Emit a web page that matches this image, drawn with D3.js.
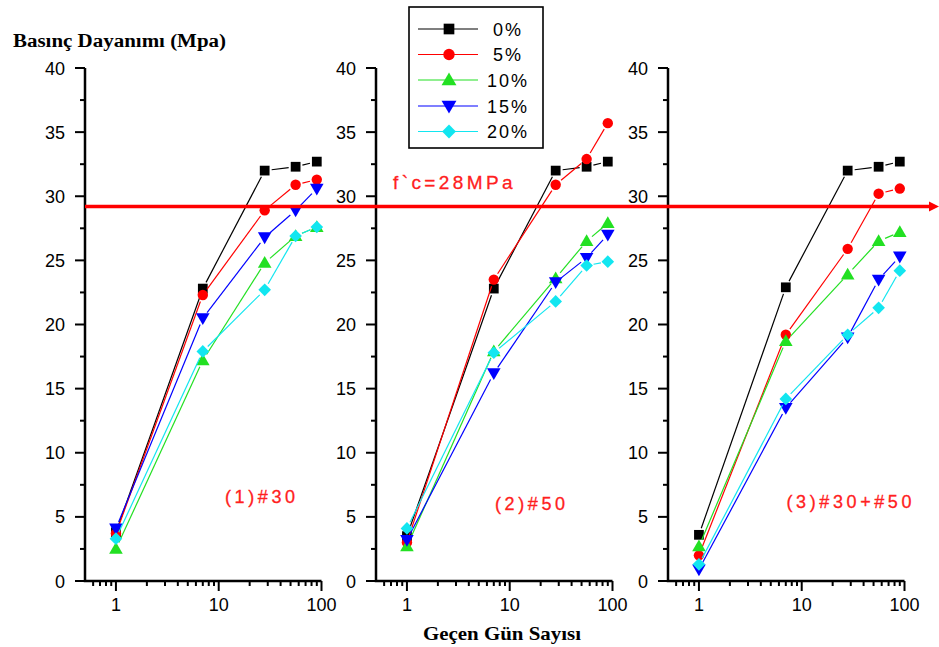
<!DOCTYPE html>
<html><head><meta charset="utf-8">
<script src="https://cdn.jsdelivr.net/npm/d3@7"></script>
<style>body{margin:0;background:#fff}svg{display:block}</style>
</head><body>
<svg id="c" width="939" height="647"></svg>
<script>
// ---- data ----
const days = [1, 7, 28, 56, 90];
const seriesNames = ["0%", "5%", "10%", "15%", "20%"];
const panelLabels = ["(1)#30", "(2)#50", "(3)#30+#50"];
const yTicks = [0, 5, 10, 15, 20, 25, 30, 35, 40];
const xTickLabels = ["1", "10", "100"];
const fcLabel = "f`c=28MPa";
const fcValue = 29.2;
// panel 1: #30
const mesh30 = [
  [3.8, 22.8, 32.0, 32.3, 32.7],
  [3.7, 22.3, 28.9, 30.9, 31.3],
  [2.5, 17.2, 24.8, 26.9, 27.6],
  [4.1, 20.5, 26.8, 28.9, 30.6],
  [3.3, 17.9, 22.7, 26.9, 27.6]
];
// panel 2: #50
const mesh50 = [
  [3.5, 22.8, 32.0, 32.3, 32.7],
  [3.0, 23.5, 30.9, 32.9, 35.7],
  [2.7, 17.9, 23.6, 26.5, 27.9],
  [3.2, 16.2, 23.3, 25.2, 27.0],
  [4.1, 17.8, 21.8, 24.6, 24.9]
];
// panel 3: #30+#50
const mesh3050 = [
  [3.6, 22.9, 32.0, 32.3, 32.7],
  [2.0, 19.2, 25.9, 30.2, 30.6],
  [2.7, 18.7, 23.9, 26.5, 27.2],
  [0.9, 13.5, 19.0, 23.5, 25.3],
  [1.3, 14.2, 19.2, 21.3, 24.2]
];
const panels = [mesh30, mesh50, mesh3050];

// ---- style ----
const colors = ["#000000", "#ff0000", "#22e022", "#0000ff", "#12e6f0"];
const svg = d3.select("#c");
const panelLeft = [85, 376, 668];
const panelW = 236.5;
const yTop = 68, yBottom = 581;
const y = d3.scaleLinear().domain([0, 40]).range([yBottom, yTop]);
const font = "'Liberation Sans', Arial, sans-serif";

function marker(g, i, cx, cy, s) {
  s = s || 1;
  const types = [d3.symbolSquare, d3.symbolCircle, d3.symbolTriangle, d3.symbolTriangle, d3.symbolSquare];
  const sizes = [95, 85, 80, 80, 80];
  const rot = [0, 0, 0, 180, 45];
  const dy = i === 2 ? 1 : (i === 3 ? -1 : 0);
  g.append("path")
    .attr("d", d3.symbol().type(types[i]).size(sizes[i] * s)())
    .attr("transform", `translate(${cx},${cy + dy}) rotate(${rot[i]})`)
    .attr("fill", colors[i]);
}

panels.forEach((data, pi) => {
  const x0 = panelLeft[pi];
  const x = d3.scaleLog().domain([0.5, 100]).range([x0, x0 + panelW]);
  const g = svg.append("g");

  // y axis ticks
  const yMinor = d3.range(2.5, 40, 5);
  const ax = g.append("g").attr("stroke", "#000");
  yTicks.forEach(t => ax.append("line").attr("x1", x0 - 10).attr("x2", x0).attr("y1", y(t)).attr("y2", y(t)).attr("stroke-width", 2));
  yMinor.forEach(t => ax.append("line").attr("x1", x0 - 5).attr("x2", x0).attr("y1", y(t)).attr("y2", y(t)).attr("stroke-width", 2));
  yTicks.forEach(t => g.append("text").attr("x", x0 - 20).attr("y", y(t) + 6.5)
    .attr("text-anchor", "end").attr("font-family", font).attr("font-size", 18).attr("fill", "#000").text(t));

  // x axis ticks
  const xMajor = [1, 10, 100];
  const xMinor = [0.6, 0.7, 0.8, 0.9, 2, 3, 4, 5, 6, 7, 8, 9, 20, 30, 40, 50, 60, 70, 80, 90];
  xMajor.forEach(t => ax.append("line").attr("x1", x(t)).attr("x2", x(t)).attr("y1", yBottom).attr("y2", yBottom + 10).attr("stroke-width", 2));
  xMinor.forEach(t => ax.append("line").attr("x1", x(t)).attr("x2", x(t)).attr("y1", yBottom).attr("y2", yBottom + 5).attr("stroke-width", 2));
  xMajor.forEach((t, k) => g.append("text").attr("x", x(t)).attr("y", 611)
    .attr("text-anchor", "middle").attr("font-family", font).attr("font-size", 18).attr("fill", "#000").text(xTickLabels[k]));

  // axis lines
  g.append("path").attr("d", `M${x0},${yTop}V${yBottom}H${x0 + panelW}`)
    .attr("fill", "none").attr("stroke", "#000").attr("stroke-width", 2.5);

  // series
  data.forEach((vals, si) => {
    const pts = vals.map((v, k) => [x(days[k]), y(v)]);
    const gap = 7;
    for (let k = 0; k < pts.length - 1; k++) {
      const [ax1, ay1] = pts[k], [bx, by] = pts[k + 1];
      const dx = bx - ax1, dy = by - ay1, len = Math.hypot(dx, dy);
      if (len <= 2 * gap + 1) continue;
      const ux = dx / len, uy = dy / len;
      g.append("line")
        .attr("x1", ax1 + ux * gap).attr("y1", ay1 + uy * gap)
        .attr("x2", bx - ux * gap).attr("y2", by - uy * gap)
        .attr("stroke", colors[si]).attr("stroke-width", 1.2);
    }
    pts.forEach(p => marker(g, si, p[0], p[1]));
  });

  // panel label
  const lx = [225, 495, 786.5][pi], ly = [503, 510, 508][pi];
  g.append("text").attr("x", lx).attr("y", ly).attr("font-family", font).attr("font-size", 18)
    .attr("letter-spacing", 3.6).attr("fill", "#ff2020").attr("stroke", "#ff2020").attr("stroke-width", 0.3)
    .text(panelLabels[pi]);
});

// f'c reference line with arrow
const fy = y(fcValue);
svg.append("line").attr("x1", 85).attr("x2", 931).attr("y1", fy).attr("y2", fy)
  .attr("stroke", "#ff0000").attr("stroke-width", 3.5);
svg.append("path").attr("d", `M939,${fy}L929,${fy - 5}L929,${fy + 5}Z`).attr("fill", "#ff0000");
svg.append("text").attr("x", 393).attr("y", 189).attr("font-family", font).attr("font-size", 19)
  .attr("letter-spacing", 3.4).attr("fill", "#ff2020").attr("stroke", "#ff2020").attr("stroke-width", 0.3)
  .text(fcLabel);

// legend
svg.append("rect").attr("x", 409).attr("y", 7).attr("width", 134).attr("height", 141)
  .attr("fill", "#fff").attr("stroke", "#000").attr("stroke-width", 1.6);
const legY = [29, 54.5, 80, 106, 131.5];
seriesNames.forEach((n, i) => {
  svg.append("line").attr("x1", 418).attr("x2", 478).attr("y1", legY[i]).attr("y2", legY[i])
    .attr("stroke", colors[i]).attr("stroke-width", 1.2);
  marker(svg, i, 449, legY[i], 1.2);
  svg.append("text").attr("x", 508).attr("y", legY[i] + 6.5).attr("text-anchor", "middle")
    .attr("font-family", font).attr("font-size", 18).attr("letter-spacing", 2).attr("fill", "#000").text(n);
});

// axis titles
svg.append("text").attr("x", 13).attr("y", 47).attr("font-family", "'Liberation Serif', 'Times New Roman', serif")
  .attr("font-weight", "bold").attr("font-size", 18).attr("textLength", 213).attr("lengthAdjust", "spacingAndGlyphs")
  .text("Basınç Dayanımı (Mpa)");
svg.append("text").attr("x", 423).attr("y", 640).attr("font-family", "'Liberation Serif', 'Times New Roman', serif")
  .attr("font-weight", "bold").attr("font-size", 19).attr("textLength", 158).attr("lengthAdjust", "spacingAndGlyphs")
  .text("Geçen Gün Sayısı");
</script>
</body></html>
